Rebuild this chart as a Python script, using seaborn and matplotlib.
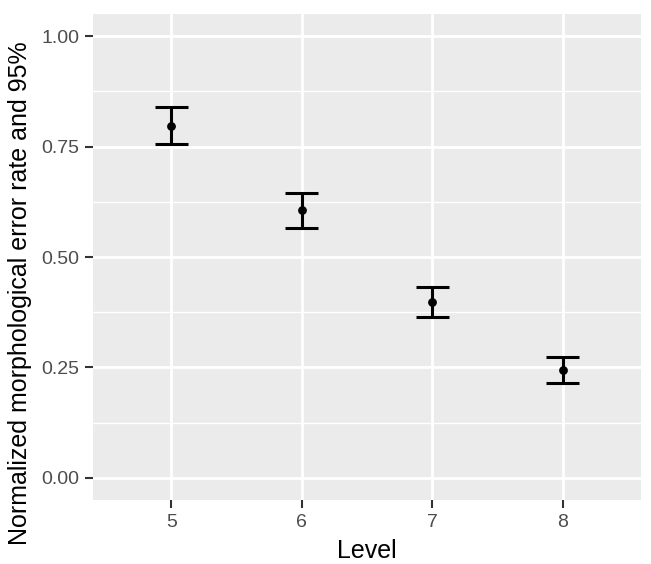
import numpy as np
import pandas as pd
import matplotlib
matplotlib.use("Agg")
import matplotlib.pyplot as plt
import seaborn as sns

# ── Data ──────────────────────────────────────────────────────────────────────
levels = [5, 6, 7, 8]
rate   = [0.797, 0.606, 0.398, 0.245]
ci_lo  = [0.756, 0.566, 0.365, 0.215]
ci_hi  = [0.839, 0.645, 0.431, 0.274]

df = pd.DataFrame({"Level": levels, "rate": rate, "lo": ci_lo, "hi": ci_hi})

# ── ggplot-ish theme ──────────────────────────────────────────────────────────
sns.set_theme(style="darkgrid", rc={
    "axes.facecolor": "#EBEBEB",
    "grid.color": "white",
    "axes.edgecolor": "#EBEBEB",
})
plt.rcParams["font.family"] = ["Liberation Sans", "DejaVu Sans"]

fig = plt.figure(figsize=(6.51, 5.64), dpi=100)
ax = fig.add_axes([93 / 651, 64 / 564, 548 / 651, 486 / 564])

# confidence intervals, width 0.25 like geom_errorbar(width = .25)
half = 0.125
ax.vlines(df["Level"], df["lo"], df["hi"], color="black", linewidth=2.2, zorder=3)
ax.hlines(df["lo"], df["Level"] - half, df["Level"] + half,
          color="black", linewidth=2.2, zorder=3)
ax.hlines(df["hi"], df["Level"] - half, df["Level"] + half,
          color="black", linewidth=2.2, zorder=3)
sns.scatterplot(data=df, x="Level", y="rate", color="black", s=40,
                edgecolor="black", linewidth=0, zorder=4, ax=ax, legend=False)

ax.set_xlim(4.4, 8.6)
ax.set_ylim(-0.05, 1.05)
ax.set_xticks(levels)
ax.set_xticklabels([str(l) for l in levels])
ax.set_yticks([0, 0.25, 0.5, 0.75, 1.0])
ax.set_yticklabels(["0.00", "0.25", "0.50", "0.75", "1.00"])
ax.set_yticks([0.125, 0.375, 0.625, 0.875], minor=True)
ax.grid(which="major", color="white", linewidth=2.0)
ax.grid(which="minor", axis="y", color="white", linewidth=1.0)
ax.set_axisbelow(True)
for s in ax.spines.values():
    s.set_visible(False)

ax.tick_params(axis="both", which="major", labelsize=14, labelcolor="#4D4D4D",
               length=6, width=1.5, color="#333333", pad=4, bottom=True, left=True)
ax.tick_params(axis="both", which="minor", length=0)

ax.set_xlabel("Level", fontsize=18, color="black", labelpad=6)
ax.set_ylabel("")
fig.text(20 / 651, (564 - 545) / 564, "Normalized morphological error rate and 95%",
         rotation=90, ha="center", va="bottom", fontsize=18, color="black")

fig.savefig("out.png", dpi=100)
plt.close()
